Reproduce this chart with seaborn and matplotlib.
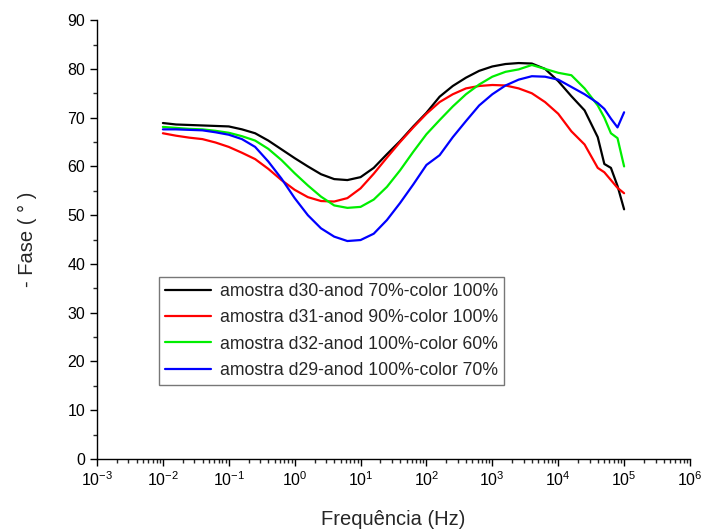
import numpy as np
import pandas as pd
import matplotlib
matplotlib.use('Agg')
import matplotlib.pyplot as plt
from matplotlib.ticker import MultipleLocator, LogLocator
import seaborn as sns

# log10 of frequency (Hz)
log_freq = [-2.0, -1.8, -1.6, -1.4, -1.2, -1.0, -0.8, -0.6, -0.4, -0.2,
            0.0, 0.2, 0.4, 0.6, 0.8, 1.0, 1.2, 1.4, 1.6, 1.8,
            2.0, 2.2, 2.4, 2.6, 2.8, 3.0, 3.2, 3.4, 3.6, 3.8,
            4.0, 4.2, 4.4, 4.6, 4.7, 4.8, 4.9, 5.0]

fase_d30 = [68.9, 68.6, 68.5, 68.4, 68.3, 68.2, 67.6, 66.8, 65.3, 63.5,
            61.7, 60.0, 58.4, 57.4, 57.2, 57.8, 59.7, 62.5, 65.2, 68.2,
            71.0, 74.3, 76.5, 78.2, 79.6, 80.5, 81.0, 81.2, 81.1, 80.0,
            77.5, 74.4, 71.5, 66.0, 60.5, 59.7, 56.0, 51.2]
fase_d31 = [66.8, 66.3, 65.9, 65.6, 64.9, 64.0, 62.8, 61.5, 59.5, 57.2,
            55.2, 53.7, 52.9, 52.8, 53.5, 55.5, 58.5, 61.8, 65.0, 68.0,
            70.8, 73.2, 74.8, 76.0, 76.5, 76.7, 76.6, 76.0, 75.0, 73.2,
            70.8, 67.2, 64.5, 59.7, 58.8, 57.2, 55.6, 54.5]
fase_d32 = [68.1, 67.9, 67.7, 67.6, 67.3, 66.9, 66.2, 65.3, 63.6, 61.3,
            58.6, 56.1, 53.8, 52.0, 51.5, 51.7, 53.2, 55.8, 59.2, 63.0,
            66.6, 69.5, 72.3, 74.8, 76.8, 78.4, 79.4, 79.9, 80.8, 80.0,
            79.2, 78.7, 76.0, 72.5, 70.0, 66.8, 65.8, 60.0]
fase_d29 = [67.6, 67.6, 67.5, 67.4, 67.0, 66.5, 65.6, 64.0, 61.0, 57.5,
            53.5, 50.0, 47.3, 45.6, 44.7, 44.9, 46.2, 49.0, 52.5, 56.3,
            60.3, 62.3, 66.0, 69.3, 72.5, 74.8, 76.6, 77.8, 78.5, 78.4,
            77.8, 76.3, 74.8, 73.0, 71.8, 69.8, 68.0, 71.1]

labels = [
    'amostra d30-anod 70%-color 100%',
    'amostra d31-anod 90%-color 100%',
    'amostra d32-anod 100%-color 60%',
    'amostra d29-anod 100%-color 70%',
]
colors = ['#000000', '#ff0000', '#00ee00', '#0000ff']

sns.set_style('ticks')
plt.rcParams['font.family'] = ['Liberation Sans', 'DejaVu Sans']
plt.rcParams['mathtext.default'] = 'regular'

freq = 10.0 ** np.array(log_freq)
frames = []
for lab, vals in zip(labels, [fase_d30, fase_d31, fase_d32, fase_d29]):
    frames.append(pd.DataFrame({'freq': freq, 'fase': vals, 'amostra': lab}))
df = pd.concat(frames, ignore_index=True)

fig = plt.figure(figsize=(7.05, 5.3), dpi=100)
ax = fig.add_axes([0.1376, 0.134, 0.8411, 0.828])

sns.lineplot(data=df, x='freq', y='fase', hue='amostra', palette=colors,
             linewidth=1.6, ax=ax, sort=False)

ax.set_xscale('log')
ax.set_xlim(1e-3, 1e6)
ax.set_ylim(0, 90)
ax.yaxis.set_major_locator(MultipleLocator(10))
ax.yaxis.set_minor_locator(MultipleLocator(5))
ax.xaxis.set_major_locator(LogLocator(base=10, numticks=20))
ax.xaxis.set_minor_locator(LogLocator(base=10, subs=np.arange(2, 10), numticks=20))

sns.despine(ax=ax)
for sp in ['left', 'bottom']:
    ax.spines[sp].set_linewidth(1.0)
    ax.spines[sp].set_color('black')
ax.tick_params(which='major', direction='out', length=5, width=1, labelsize=11.5, colors='black')
ax.tick_params(which='minor', direction='out', length=3, width=1)

ax.set_xlabel('Frequência (Hz)', fontsize=14.5, labelpad=15)
ax.set_ylabel('- Fase ( ° )', fontsize=14.5, labelpad=22)

leg = ax.legend(loc='upper left', bbox_to_anchor=(0.1046, 0.4146), fontsize=12.7,
                frameon=True, fancybox=False, edgecolor='#555555',
                handlelength=2.6, labelspacing=0.52, borderpad=0.35,
                handletextpad=0.5, borderaxespad=0)
leg.get_frame().set_linewidth(1.0)
for line in leg.get_lines():
    line.set_linewidth(1.6)

fig.savefig('out.png', dpi=100)
